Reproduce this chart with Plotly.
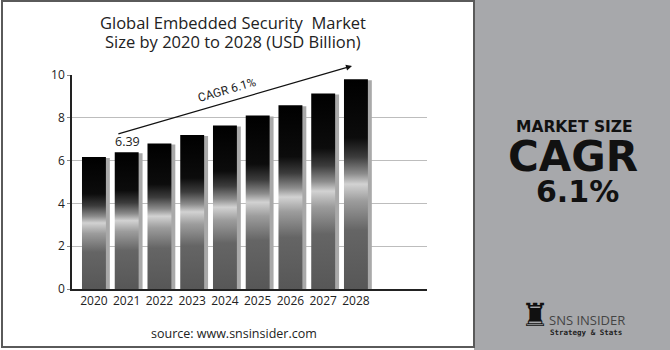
import plotly.graph_objects as go

years = ["2020", "2021", "2022", "2023", "2024", "2025", "2026", "2027", "2028"]
values = [6.17, 6.39, 6.80, 7.20, 7.64, 8.11, 8.59, 9.14, 9.80]
y_ticks = [0, 2, 4, 6, 8, 10]

BAR_W = 0.73
SHADOW_DX = 0.12

# gradient: 0 = bottom, 1 = top
grad = [
    [0.0, "#575757"], [0.28, "#656565"], [0.42, "#9c9c9c"], [0.50, "#d2d2d2"],
    [0.55, "#8c8c8c"], [0.63, "#3c3c3c"], [0.72, "#0c0c0c"], [1.0, "#000000"],
]

fig = go.Figure()

# shadows
fig.add_trace(go.Bar(
    x=[i + SHADOW_DX for i in range(len(years))], y=[v - 0.05 for v in values],
    width=BAR_W, marker=dict(color="#a9a9a9", line=dict(width=0)),
    hoverinfo="skip", showlegend=False,
))

# gradient bars
for i, v in enumerate(values):
    x0, x1 = i - BAR_W / 2, i + BAR_W / 2
    fig.add_trace(go.Scatter(
        x=[x0, x1, x1, x0, x0], y=[0, 0, v, v, 0],
        mode="lines", fill="toself", line=dict(width=0),
        fillgradient=dict(type="vertical", colorscale=grad),
        hoverinfo="skip", showlegend=False,
    ))

W, H = 670, 350
L, R, T, B = 72, 243, 75, 61
pw, ph = W - L - R, H - T - B


def px(x):
    return (x - L) / pw


def py(y):
    return (H - B - y) / ph


shapes = [
    dict(type="rect", xref="paper", yref="paper", x0=px(474), x1=px(672), y0=py(-2), y1=py(352),
         fillcolor="#a7a8ab", line=dict(width=0), layer="below"),
    dict(type="rect", xref="paper", yref="paper", x0=px(2), x1=px(474), y0=py(347), y1=py(1),
         fillcolor="rgba(0,0,0,0)", line=dict(color="#5a5a5a", width=2), layer="below"),
]

font = "Open Sans, Lato, sans-serif"
bold = "DejaVu Sans, sans-serif"


def txt(x, y, text, size, family=font, color="#222", weight=None, xanchor="center"):
    f = dict(family=family, size=size, color=color)
    if weight:
        f["weight"] = weight
    return dict(xref="paper", yref="paper", x=px(x), y=py(y), text=text, showarrow=False,
                font=f, xanchor=xanchor, yanchor="middle")


ann = [
    txt(233, 23, "Global Embedded Security  Market", 16.5),
    txt(233, 42, "Size by 2020 to 2028 (USD Billion)", 16.5),
    txt(234, 333, "source: www.snsinsider.com", 12.5),
    # arrow
    dict(x=7.88, y=10.42, ax=0.70, ay=7.23, xref="x", yref="y", axref="x", ayref="y",
         showarrow=True, arrowhead=2, arrowsize=1, arrowwidth=1.2, arrowcolor="#111", text=""),
    dict(x=4.05, y=9.32, xref="x", yref="y", text="CAGR 6.1%", textangle=-16, showarrow=False,
         font=dict(family="Liberation Sans Narrow, Roboto, sans-serif", size=12, color="#222")),
    dict(x=1.03, y=6.87, xref="x", yref="y", text=f"{values[1]:.2f}", showarrow=False,
         font=dict(family=font, size=12.5, color="#222")),
    dict(x=8.06, y=10.27, xref="x", yref="y", text=f"{values[-1]:.1f}", showarrow=False,
         font=dict(family=font, size=12.5, color="#222")),
    # right panel
    txt(574, 127, "MARKET SIZE", 15.5, family=bold, color="#111", weight=700),
    txt(573, 156, "CAGR", 42, family=bold, color="#111", weight=700),
    txt(577, 191, "6.1%", 30, family=bold, color="#111", weight=700),
    # logo
    txt(535, 315, "♜", 32, family="DejaVu Sans", color="#111"),
    txt(547, 320, "SNS INSIDER", 13, color="#444", xanchor="left"),
    txt(548, 332, "Strategy & Stats", 7.5, family="DejaVu Sans Mono", color="#222", weight=700, xanchor="left"),
]

fig.update_layout(
    width=W, height=H, margin=dict(l=L, r=R, t=T, b=B),
    paper_bgcolor="white", plot_bgcolor="white",
    barmode="overlay", showlegend=False,
    shapes=shapes, annotations=ann,
    xaxis=dict(range=[-0.67, 10.17], tickvals=list(range(len(years))), ticktext=years,
               showgrid=False, zeroline=False, showline=True, linecolor="#222", linewidth=2,
               tickfont=dict(family=font, size=12, color="#222"), ticks=""),
    yaxis=dict(range=[0, 10], tickvals=y_ticks, showgrid=True, gridcolor="#bdbdbd", gridwidth=1,
               zeroline=False, showline=True, linecolor="#222", linewidth=1.5,
               ticks="outside", ticklen=3, tickcolor="#888",
               tickfont=dict(family=font, size=12, color="#222")),
)

fig.write_html("out.html")
